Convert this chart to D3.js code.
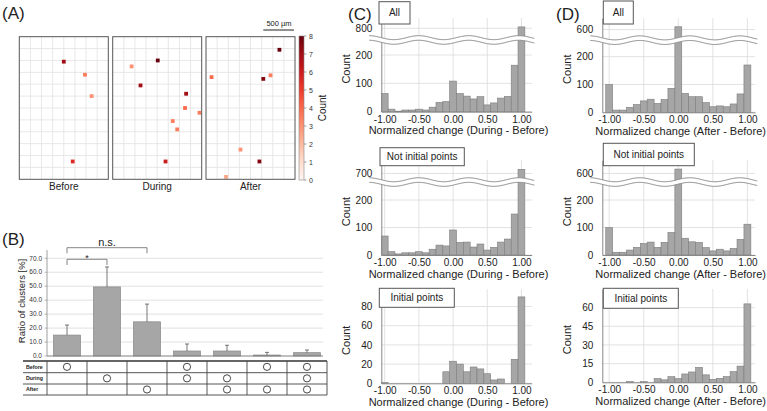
<!DOCTYPE html>
<html lang="en">
<head>
<meta charset="UTF-8">
<title>Clusters</title>
<script src="https://d3js.org/d3.v7.min.js"></script>
<style>
  body { margin: 0; background: #fff; }
  svg { display: block; font-family: "Liberation Sans", Arial, sans-serif; }
</style>
</head>
<body>
<svg width="767" height="411"></svg>
<script>
// ---------- data ----------
// panel A: [column, row, count] on the 8 x 12 grid of each field
const beforePts = [[4.0, 2.1, 7], [5.9, 3.2, 3.5], [6.5, 5.0, 3], [4.8, 10.5, 5.5]];
const duringPts = [[1.7, 2.5, 3], [4.05, 2.0, 8], [2.5, 4.1, 7], [6.6, 4.8, 7], [6.5, 6.0, 4],
                   [7.8, 6.4, 3.5], [5.4, 7.1, 3.5], [5.8, 7.8, 3.5], [4.75, 10.5, 6]];
const afterPts = [[0.5, 3.4, 4], [6.6, 1.1, 8], [5.15, 3.55, 7.5], [5.8, 3.25, 3.5],
                  [3.1, 9.5, 3], [4.8, 10.5, 7.5], [1.8, 11.8, 2.5]];
const fields = ["Before", "During", "After"];
const countTicks = [0, 1, 2, 3, 4, 5, 6, 7, 8];

// panel B
const groups = ["B", "D", "A", "BD", "DA", "BA", "BDA"];
const ratio = [15.0, 49.5, 24.5, 3.6, 3.6, 0.7, 2.4];
const ratioSd = [7.2, 14.3, 12.7, 5.0, 4.1, 1.9, 1.9];
const ratioTicks = [0, 10, 20, 30, 40, 50, 60, 70];
const rowNames = ["Before", "During", "After"];
const inBefore = [1, 0, 0, 1, 0, 1, 1];
const inDuring = [0, 1, 0, 1, 1, 0, 1];
const inAfter = [0, 0, 1, 0, 1, 1, 1];

// panels C and D: histogram bins of normalized change
const bins = [-1.0, -0.9, -0.8, -0.7, -0.6, -0.5, -0.4, -0.3, -0.2, -0.1, 0.0,
              0.1, 0.2, 0.3, 0.4, 0.5, 0.6, 0.7, 0.8, 0.9, 1.0];
const xTicks = [-1, -0.5, 0, 0.5, 1];
const cAll     = [64, 9, 2, 6, 6, 9, 6, 16, 33, 36, 108, 64, 55, 45, 53, 24, 31, 48, 54, 164, 805];
const cNotInit = [69, 12, 4, 8, 8, 12, 8, 21, 36, 33, 91, 46, 47, 29, 40, 18, 28, 47, 58, 149, 715];
const cInit    = [1, 0, 0, 0, 0, 0, 0, 0, 0, 12, 23, 20, 12, 17, 15, 10, 3.5, 4.5, 0, 25, 90];
const dAll     = [100, 8, 8, 18, 28, 41, 47, 32, 46, 86, 610, 68, 56, 56, 35, 20, 23, 20, 30, 66, 170];
const dNotInit = [100, 10, 10, 18, 28, 42, 47, 28, 46, 82, 616, 61, 48, 46, 27, 15, 21, 15, 24, 57, 112];
const dInit    = [0, 0, 0, 0.5, 0, 0.5, 0, 3, 2, 4.5, 3, 6.7, 8.3, 12, 6, 2.4, 3.2, 4.5, 8.6, 13, 63];
const cAllTicks = [0, 100, 200, 800];
const cNotInitTicks = [0, 100, 200, 700];
const cInitTicks = [0, 20, 40, 60, 80];
const dAllTicks = [0, 100, 200, 600];
const dNotInitTicks = [0, 100, 200, 600];
const dInitTicks = [0, 15, 30, 45, 60];

const svg = d3.select("svg");
const ink = "#222";

// panel letters
[["(A)", 2, 19], ["(B)", 2, 245], ["(C)", 348, 20], ["(D)", 556, 20]].forEach(([t, x, y]) => {
  svg.append("text").attr("x", x).attr("y", y).attr("font-size", 17).attr("fill", ink).text(t);
});

// ---------- panel A ----------
const fieldLeft = [19.3, 112.7, 206], fieldW = 89, fieldTop = 36.7, fieldH = 142.6;
const fieldPts = [beforePts, duringPts, afterPts];
const heat = d3.scaleSequential(d3.interpolateReds).domain([0, 8]);

fields.forEach((name, i) => {
  const fx = d3.scaleLinear().domain([0, 8]).range([fieldLeft[i], fieldLeft[i] + fieldW]);
  const fy = d3.scaleLinear().domain([0, 12]).range([fieldTop, fieldTop + fieldH]);
  const g = svg.append("g");
  g.selectAll(".gx").data(d3.range(1, 8)).join("line")
    .attr("x1", d => fx(d)).attr("x2", d => fx(d))
    .attr("y1", fieldTop).attr("y2", fieldTop + fieldH)
    .attr("stroke", "#e2e2e2").attr("stroke-width", 0.8);
  g.selectAll(".gy").data(d3.range(1, 12)).join("line")
    .attr("y1", d => fy(d)).attr("y2", d => fy(d))
    .attr("x1", fieldLeft[i]).attr("x2", fieldLeft[i] + fieldW)
    .attr("stroke", "#e2e2e2").attr("stroke-width", 0.8);
  g.selectAll(".pt").data(fieldPts[i]).join("rect")
    .attr("x", d => fx(d[0]) - 1.9).attr("y", d => fy(d[1]) - 1.9)
    .attr("width", 3.8).attr("height", 3.8)
    .attr("fill", d => heat(d[2]));
  g.append("rect")
    .attr("x", fieldLeft[i]).attr("y", fieldTop).attr("width", fieldW).attr("height", fieldH)
    .attr("fill", "none").attr("stroke", "#555").attr("stroke-width", 1);
  g.append("text")
    .attr("x", fieldLeft[i] + fieldW / 2).attr("y", 190)
    .attr("text-anchor", "middle").attr("font-size", 10).attr("fill", ink).text(name);
});

// colour bar
const grad = svg.append("defs").append("linearGradient")
  .attr("id", "cbar").attr("x1", 0).attr("y1", 1).attr("x2", 0).attr("y2", 0);
grad.selectAll("stop").data(d3.range(0, 1.001, 0.05)).join("stop")
  .attr("offset", d => d).attr("stop-color", d => d3.interpolateReds(d));
const cy = d3.scaleLinear().domain([0, 8]).range([180, 36]);
svg.append("rect").attr("x", 299).attr("y", 36).attr("width", 5).attr("height", 144)
  .attr("fill", "url(#cbar)").attr("stroke", "#888").attr("stroke-width", 0.6);
svg.selectAll(".cbt").data(countTicks).join("line")
  .attr("x1", 304).attr("x2", 306.5).attr("y1", d => cy(d)).attr("y2", d => cy(d))
  .attr("stroke", "#666").attr("stroke-width", 0.6);
svg.selectAll(".cbl").data(countTicks).join("text")
  .attr("x", 309).attr("y", d => cy(d) + 2.5)
  .attr("font-size", 7).attr("fill", "#333").text(d => d);
svg.append("text").attr("transform", "translate(326,108) rotate(-90)")
  .attr("text-anchor", "middle").attr("font-size", 10).attr("fill", ink).text("Count");

// scale bar
svg.append("line").attr("x1", 263.3).attr("x2", 294).attr("y1", 30).attr("y2", 30)
  .attr("stroke", ink).attr("stroke-width", 1);
svg.append("text").attr("x", 279).attr("y", 26).attr("text-anchor", "middle")
  .attr("font-size", 7.5).attr("fill", ink).text("500 µm");

// ---------- panel B ----------
const bx = d3.scaleBand().domain(groups).range([47, 327]).paddingInner(0.32).paddingOuter(0.16);
const by = d3.scaleLinear().domain([0, 70]).range([356, 258.3]);
const cx = d => bx(d) + bx.bandwidth() / 2;

svg.selectAll(".bgrid").data(ratioTicks).join("line")
  .attr("x1", 47).attr("x2", 323).attr("y1", d => by(d)).attr("y2", d => by(d))
  .attr("stroke", "#d9d9d9").attr("stroke-width", 0.8);
svg.append("line").attr("x1", 47).attr("x2", 47).attr("y1", 250).attr("y2", 356)
  .attr("stroke", "#888").attr("stroke-width", 0.8);
svg.selectAll(".btick").data(ratioTicks).join("line")
  .attr("x1", 44.5).attr("x2", 47).attr("y1", d => by(d)).attr("y2", d => by(d))
  .attr("stroke", "#888").attr("stroke-width", 0.6);
svg.selectAll(".blab").data(ratioTicks).join("text")
  .attr("x", 42).attr("y", d => by(d) + 2.2).attr("text-anchor", "end")
  .attr("font-size", 6.5).attr("fill", "#333").text(d => d.toFixed(1));
svg.append("text").attr("transform", "translate(25,301) rotate(-90)")
  .attr("text-anchor", "middle").attr("font-size", 9.5).attr("fill", ink).text("Ratio of clusters [%]");

svg.selectAll(".bbar").data(groups).join("rect")
  .attr("x", d => bx(d)).attr("width", bx.bandwidth())
  .attr("y", (d, i) => by(ratio[i])).attr("height", (d, i) => by(0) - by(ratio[i]))
  .attr("fill", "#a6a6a6").attr("stroke", "#8a8a8a").attr("stroke-width", 0.7);
svg.selectAll(".berr").data(groups).join("path")
  .attr("d", (d, i) => {
    const x = cx(d), y1 = by(ratio[i]), y2 = by(ratio[i] + ratioSd[i]);
    return `M${x},${y1}V${y2}M${x - 2},${y2}H${x + 2}`;
  })
  .attr("stroke", "#555").attr("stroke-width", 0.8).attr("fill", "none");
svg.append("line").attr("x1", 47).attr("x2", 323).attr("y1", by(0)).attr("y2", by(0))
  .attr("stroke", "#777").attr("stroke-width", 0.8);

// significance brackets
svg.append("path")
  .attr("d", `M${cx("B")},253.3V247.7H${cx("A")}V253.3`)
  .attr("fill", "none").attr("stroke", "#666").attr("stroke-width", 0.8);
svg.append("path")
  .attr("d", `M${cx("B")},265V259.3H${cx("D")}V265`)
  .attr("fill", "none").attr("stroke", "#666").attr("stroke-width", 0.8);
svg.append("text").attr("x", (cx("B") + cx("A")) / 2).attr("y", 245.5).attr("text-anchor", "middle")
  .attr("font-size", 11).attr("fill", ink).text("n.s.");
svg.append("text").attr("x", (cx("B") + cx("D")) / 2).attr("y", 260.5).attr("text-anchor", "middle")
  .attr("font-size", 9).attr("fill", ink).text("*");

// condition table
const rowTop = [361, 372.7, 384, 395];
const rowMarks = [inBefore, inDuring, inAfter];
svg.selectAll(".trow").data(rowTop).join("line")
  .attr("x1", 23).attr("x2", 327).attr("y1", d => d).attr("y2", d => d)
  .attr("stroke", (d, i) => i === 0 ? "#333" : "#555").attr("stroke-width", (d, i) => i === 0 ? 1.3 : 1);
svg.selectAll(".tcol").data([47].concat(groups.map(g => bx(g) + bx.bandwidth() + bx.step() * bx.paddingInner() / 2))).join("line")
  .attr("x1", d => d).attr("x2", d => d).attr("y1", 361).attr("y2", 395)
  .attr("stroke", "#444").attr("stroke-width", 0.9);
rowNames.forEach((name, r) => {
  const ymid = (rowTop[r] + rowTop[r + 1]) / 2;
  svg.append("text").attr("x", 26).attr("y", ymid + 1.9)
    .attr("font-size", 5.3).attr("font-weight", "bold").attr("fill", ink).text(name);
  svg.selectAll(".mk" + r).data(groups.filter((g, i) => rowMarks[r][i])).join("circle")
    .attr("cx", d => cx(d)).attr("cy", ymid).attr("r", 3.6)
    .attr("fill", "none").attr("stroke", "#333").attr("stroke-width", 0.9);
});

// ---------- panels C and D ----------
function hist(cfg) {
  const g = svg.append("g");
  const x = d3.scaleLinear().domain(cfg.xDom).range([cfg.left, cfg.right]);
  let y;
  if (cfg.brk) {
    const yLo = cfg.y0 - cfg.brk[0] * cfg.k, yHi = yLo - 4;
    y = d3.scaleLinear().domain([0, cfg.brk[0], cfg.brk[1], cfg.max])
      .range([cfg.y0, yLo, yHi, yHi - (cfg.max - cfg.brk[1]) * cfg.k]);
  } else {
    y = d3.scaleLinear().domain([0, cfg.max]).range([cfg.y0, cfg.y0 - cfg.max * cfg.k]);
  }
  const top = y(cfg.max);

  g.selectAll(".vg").data(xTicks).join("line")
    .attr("x1", d => x(d)).attr("x2", d => x(d)).attr("y1", cfg.y0).attr("y2", top)
    .attr("stroke", "#dadada").attr("stroke-width", 0.8);
  g.selectAll(".hg").data(cfg.ticks).join("line")
    .attr("x1", cfg.left).attr("x2", cfg.right).attr("y1", d => y(d)).attr("y2", d => y(d))
    .attr("stroke", "#dadada").attr("stroke-width", 0.8);

  g.selectAll(".bar").data(cfg.counts).join("rect")
    .attr("x", (d, i) => x(bins[i] - 0.05))
    .attr("width", (d, i) => x(bins[i] + 0.05) - x(bins[i] - 0.05))
    .attr("y", d => y(d)).attr("height", d => cfg.y0 - y(d))
    .attr("fill", "#a6a6a6").attr("stroke", "#7d7d7d").attr("stroke-width", 0.6);

  const ya = g.append("g").attr("transform", `translate(${cfg.left},0)`)
    .call(d3.axisLeft(y).tickValues(cfg.ticks).tickSize(0).tickPadding(9).tickSizeOuter(0));
  const xa = g.append("g").attr("transform", `translate(0,${cfg.y0})`)
    .call(d3.axisBottom(x).tickValues(xTicks).tickSize(0).tickPadding(4).tickSizeOuter(0)
      .tickFormat(d => d.toFixed(2)));
  [ya, xa].forEach(a => {
    a.select(".domain").attr("stroke", "#888").attr("stroke-width", 1);
    a.selectAll("text").attr("font-size", 10).attr("fill", ink)
      .attr("font-family", '"Liberation Sans", Arial, sans-serif');
  });

  if (cfg.brk) {
    const yc = (y(cfg.brk[0]) + y(cfg.brk[1])) / 2;
    const xs = d3.range(cfg.left - 12, cfg.right + 3, 1);
    const curve = off => xs.map(v => [v, yc + off + 2 * Math.sin((v - cfg.left) / 50 * 2 * Math.PI)]);
    const upper = curve(-2.3), lower = curve(2.3);
    const line = d3.line();
    g.append("path").attr("d", line(upper.concat(lower.slice().reverse())) + "Z")
      .attr("fill", "#fff").attr("stroke", "none");
    [upper, lower].forEach(c => g.append("path").attr("d", line(c))
      .attr("fill", "none").attr("stroke", "#8a8a8a").attr("stroke-width", 1));
  }

  g.append("rect").attr("x", cfg.box[0]).attr("y", cfg.box[1])
    .attr("width", cfg.box[2]).attr("height", cfg.box[3])
    .attr("fill", "#fff").attr("stroke", "#555").attr("stroke-width", 1);
  g.append("text").attr("x", cfg.box[0] + cfg.box[2] / 2).attr("y", cfg.box[1] + cfg.box[3] / 2 + 3.5)
    .attr("text-anchor", "middle").attr("font-size", 10).attr("fill", ink).text(cfg.title);

  g.append("text").attr("transform", `translate(${cfg.left - 31},${(cfg.y0 + top) / 2 + 4}) rotate(-90)`)
    .attr("text-anchor", "middle").attr("font-size", 11).attr("fill", ink).text("Count");
  g.append("text").attr("x", (cfg.left + cfg.right) / 2 + 2).attr("y", cfg.y0 + 22.5)
    .attr("text-anchor", "middle").attr("font-size", 11).attr("fill", ink).text(cfg.xLabel);
}

const cSide = { left: 381.3, right: 531.7, xDom: [-1.05, 1.15], xLabel: "Normalized change (During - Before)" };
const dSide = { left: 602.3, right: 755, xDom: [-1.1, 1.11], xLabel: "Normalized change (After - Before)" };

hist({ ...cSide, counts: cAll, ticks: cAllTicks, y0: 111.7, k: 0.2835, brk: [246, 766], max: 836,
  title: "All", box: [379, 1.7, 31, 22.3] });
hist({ ...cSide, counts: cNotInit, ticks: cNotInitTicks, y0: 255, k: 0.275, brk: [258, 676], max: 748,
  title: "Not initial points", box: [380, 147.7, 84.3, 18] });
hist({ ...cSide, counts: cInit, ticks: cInitTicks, y0: 383.3, k: 0.96, max: 98,
  title: "Initial points", box: [379.3, 288.3, 75, 19] });
hist({ ...dSide, counts: dAll, ticks: dAllTicks, y0: 112.3, k: 0.2783, brk: [252, 569], max: 641,
  title: "All", box: [603.3, 1, 30, 23] });
hist({ ...dSide, counts: dNotInit, ticks: dNotInitTicks, y0: 255, k: 0.275, brk: [258, 576], max: 648,
  title: "Not initial points", box: [603.3, 143.3, 91, 22.4] });
hist({ ...dSide, counts: dInit, ticks: dInitTicks, y0: 382.3, k: 1.245, max: 75,
  title: "Initial points", box: [603.3, 288.3, 75, 20] });
</script>
</body>
</html>
